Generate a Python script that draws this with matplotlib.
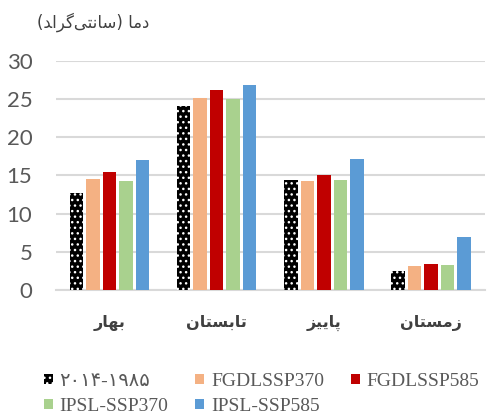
import matplotlib
matplotlib.use('Agg')
import matplotlib.pyplot as plt
import numpy as np

# seasons, written as shaped Arabic presentation forms in visual order
# (matplotlib does no Arabic shaping): بهار, تابستان, پاییز, زمستان
seasons = ['\uFEAD\uFE8E\uFEEC\uFE91',
           '\uFEE5\uFE8E\uFE98\uFEB4\uFE91\uFE8E\uFE97',
           '\uFEB0\uFBFF\uFBFE\uFE8E\uFB58',
           '\uFEE5\uFE8E\uFE98\uFEB4\uFEE3\uFEAF']
# دما (سانتی‌گراد)
y_title = '(\uFEAA\uFE8D\uFEAE\uFB94\uFBFD\uFE98\uFEE7\uFE8E\uFEB3) \uFE8E\uFEE3\uFEA9'

series_names = ['\u06F2\u06F0\u06F1\u06F4-\u06F1\u06F9\u06F8\u06F5',
                'FGDLSSP370', 'FGDLSSP585', 'IPSL-SSP370', 'IPSL-SSP585']
base_1985_2014 = [12.7, 24.1, 14.4, 2.5]
fgdl_370 = [14.5, 25.1, 14.3, 3.1]
fgdl_585 = [15.4, 26.2, 15.0, 3.4]
ipsl_370 = [14.3, 25.0, 14.4, 3.2]
ipsl_585 = [17.0, 26.8, 17.2, 6.9]
colors = ['#000000', '#F4B183', '#C00000', '#A9D18E', '#5B9BD5']

fig = plt.figure(figsize=(4.87, 4.17), dpi=100)
ax = fig.add_axes([0.115, 0.305, 0.88, 0.549])

x = np.arange(len(seasons))
step = 0.154
width = 0.126
handles = []
all_series = [base_1985_2014, fgdl_370, fgdl_585, ipsl_370, ipsl_585]
for i, vals in enumerate(all_series):
    pos = x + (i - 2) * step
    if i == 0:
        b = ax.bar(pos, vals, width, color='black', edgecolor='white',
                   linewidth=0, hatch='...', zorder=3, label=series_names[i])
    else:
        b = ax.bar(pos, vals, width, color=colors[i], zorder=3,
                   label=series_names[i])
    handles.append(b)

ax.set_ylim(0, 30)
ax.set_xlim(-0.5, 3.5)
ax.set_yticks(range(0, 31, 5))
ax.yaxis.grid(True, color='#d9d9d9', linewidth=1.5, zorder=0)
ax.set_axisbelow(True)
for s in ['top', 'right', 'left']:
    ax.spines[s].set_visible(False)
ax.spines['bottom'].set_color('#d9d9d9')
ax.spines['bottom'].set_linewidth(1.5)
ax.tick_params(axis='both', length=0)
ax.tick_params(axis='y', labelsize=16, labelcolor='#595959', pad=17)
for t in ax.get_yticklabels():
    t.set_family(['Lato', 'DejaVu Sans'])
ax.set_xticks(x)
ax.set_xticklabels(seasons, fontsize=11.5, fontweight='bold', color='#404040',
                   family='DejaVu Sans')
ax.tick_params(axis='x', pad=18)

fig.text(0.076, 0.947, y_title, fontsize=12, color='#404040',
         family='DejaVu Sans', ha='left', va='center')

order = [0, 3, 1, 4, 2]
leg = fig.legend([handles[k] for k in order], [series_names[k] for k in order],
                 ncol=3, loc='lower left', bbox_to_anchor=(0.090, 0.005),
                 frameon=False, borderpad=0, borderaxespad=0,
                 handlelength=0.45, handleheight=0.45,
                 handletextpad=0.35, columnspacing=1.4, labelspacing=0.4,
                 prop={'family': ['Liberation Serif', 'DejaVu Sans'], 'size': 14})
for t in leg.get_texts():
    t.set_color('#595959')

fig.savefig('out.png', dpi=100)
